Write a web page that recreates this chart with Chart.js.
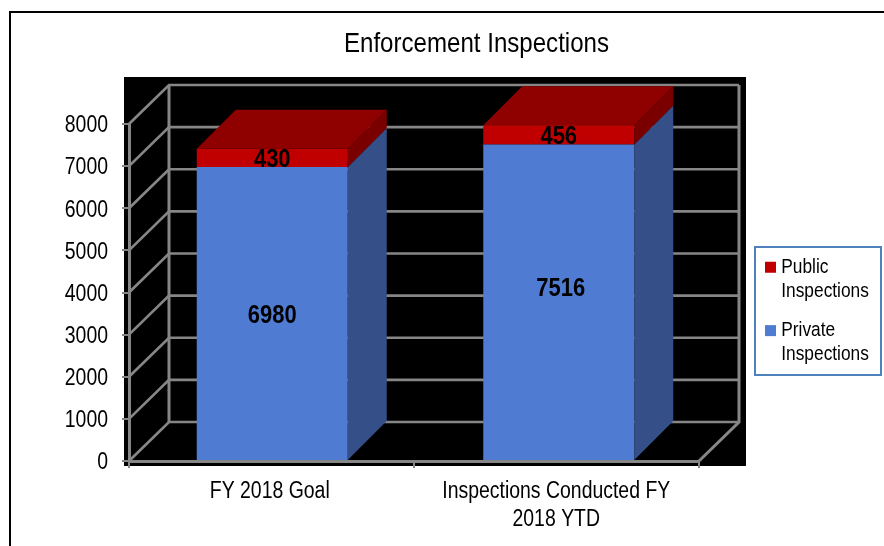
<!DOCTYPE html>
<html>
<head>
<meta charset="utf-8">
<style>html,body{margin:0;padding:0;background:#fff}canvas{display:block}</style>
<script src="https://cdn.jsdelivr.net/npm/chart.js@4/dist/chart.umd.min.js"></script>
</head>
<body>
<div style="width:884px;height:546px"><canvas id="c" width="884" height="546"></canvas></div>
<script>
const chartTitle = "Enforcement Inspections";
const categories = [["FY 2018 Goal"], ["Inspections Conducted FY", "2018 YTD"]];
const privateInspections = [6980, 7516];
const publicInspections = [430, 456];
const yMax = 8000;
const yStep = 1000;

const FONT = "'Liberation Sans',Arial,sans-serif";
const GRID = "#868686";
const faces = [
  {front: "#4f7bd3", side: "#355088", top: "#355088"},
  {front: "#c00000", side: "#7a0000", top: "#8f0000"}
];
const wall = {dx: 40, dy: -39, barDx: 39};
const labelNudge = [[{x: 0, y: 2}, {x: 2, y: -13}], [{x: 0, y: 2}, {x: 0, y: 2}]];
const narrow = 0.845;

const canvas = document.getElementById("c");
const ctx2d = canvas.getContext("2d");
const nativeFillText = ctx2d.fillText.bind(ctx2d);
// No narrow face is installed: the reference type is condensed horizontally.
ctx2d.fillText = function (text, x, y, maxWidth) {
  const w = ctx2d.measureText(text).width * narrow;
  nativeFillText(text, x, y, maxWidth === undefined ? w : Math.min(w, maxWidth));
};

const box3d = {
  id: "box3d",
  afterLayout(chart) {
    const t = chart.titleBlock;
    t.left = 176.5; t.right = 776.5;
    const l = chart.legend;
    l.left = 755; l.right = 881; l.top = 242; l.bottom = 374;
  },
  beforeDraw(chart) {
    const c = chart.ctx;
    c.save();
    c.fillStyle = "#fff"; c.fillRect(0, 0, chart.width, chart.height);
    c.fillStyle = "#000";
    c.fillRect(9, 11, 2, 535);
    c.fillRect(9, 11, 875, 2);
    c.fillRect(124, 77, 622, 389);
    c.strokeStyle = "#4f81bd"; c.lineWidth = 2;
    c.fillStyle = "#fff";
    c.fillRect(755, 247, 126, 128);
    c.strokeRect(755, 247, 126, 128);
    const x = chart.scales.x, y = chart.scales.y;
    const left = x.left, right = x.right - 3;
    c.strokeStyle = GRID;
    c.lineCap = "butt";
    c.lineWidth = 2.7;
    for (let v = 0; v <= yMax; v += yStep) {
      const p = y.getPixelForValue(v);
      c.beginPath();
      c.moveTo(left, p);
      c.lineTo(left + wall.dx, p + wall.dy);
      c.lineTo(right + wall.dx, p + wall.dy);
      c.stroke();
    }
    c.lineWidth = 3;
    c.beginPath();
    c.moveTo(left + wall.dx, y.top + wall.dy);
    c.lineTo(left + wall.dx, y.bottom + wall.dy);
    c.moveTo(right + wall.dx, y.top + wall.dy);
    c.lineTo(right + wall.dx, y.bottom + wall.dy);
    c.lineTo(right, y.bottom);
    c.stroke();
    c.restore();
  },
  afterDatasetsDraw(chart) {
    const c = chart.ctx;
    const x = chart.scales.x, y = chart.scales.y;
    c.save();
    chart.data.datasets.forEach((ds, i) => {
      chart.getDatasetMeta(i).data.forEach((b) => {
        const r = b.x + b.width / 2, l = b.x - b.width / 2;
        const dx = wall.barDx, dy = wall.dy;
        c.fillStyle = faces[i].side;
        c.beginPath();
        c.moveTo(r, b.base); c.lineTo(r + dx, b.base + dy);
        c.lineTo(r + dx, b.y + dy); c.lineTo(r, b.y);
        c.closePath(); c.fill();
        if (i === chart.data.datasets.length - 1) {
          c.fillStyle = faces[i].top;
          c.beginPath();
          c.moveTo(l, b.y); c.lineTo(l + dx, b.y + dy);
          c.lineTo(r + dx, b.y + dy); c.lineTo(r, b.y);
          c.closePath(); c.fill();
        }
      });
    });
    c.fillStyle = "#000";
    c.font = "bold 26px " + FONT;
    c.textAlign = "center";
    c.textBaseline = "middle";
    chart.data.datasets.forEach((ds, i) => {
      chart.getDatasetMeta(i).data.forEach((b, j) => {
        const n = labelNudge[i][j];
        c.fillText(String(ds.data[j]), b.x + n.x, (b.y + b.base) / 2 + n.y);
      });
    });
    // floor front edge and the category tick marks
    c.strokeStyle = GRID;
    c.lineWidth = 3;
    const floorRight = x.right - 3;
    c.beginPath();
    c.moveTo(x.left - 1, y.bottom + 0.5);
    c.lineTo(floorRight, y.bottom + 0.5);
    c.stroke();
    c.lineWidth = 2;
    c.beginPath();
    [x.left, (x.left + floorRight) / 2, floorRight].forEach(p => {
      c.moveTo(p, y.bottom);
      c.lineTo(p, y.bottom + 7);
    });
    c.stroke();
    c.restore();
  }
};

new Chart(canvas, {
  type: "bar",
  data: {
    labels: categories,
    datasets: [
      {label: "Private Inspections", data: privateInspections, backgroundColor: faces[0].front},
      {label: "Public Inspections", data: publicInspections, backgroundColor: faces[1].front}
    ]
  },
  options: {
    responsive: false,
    animation: false,
    events: [],
    layout: {padding: {left: 0, right: 182, top: 0, bottom: 0}},
    categoryPercentage: 1,
    barPercentage: 0.527,
    scales: {
      x: {
        stacked: true,
        afterFit(s) { s.height = 85; },
        grid: {display: false},
        border: {display: false},
        ticks: {
          color: "#000",
          font: {family: FONT, size: 23, lineHeight: 1.22},
          padding: 9,
          labelOffset: -2.5,
          maxRotation: 0,
          minRotation: 0,
          autoSkip: false
        }
      },
      y: {
        stacked: true,
        min: 0,
        max: yMax,
        afterFit(s) { s.width = 129; },
        grid: {drawOnChartArea: false, drawTicks: true, tickLength: 7, color: GRID, lineWidth: 2},
        border: {display: true, color: GRID, width: 3},
        ticks: {
          stepSize: yStep,
          color: "#000",
          font: {family: FONT, size: 23},
          padding: 14,
          labelOffset: 2,
          callback: v => String(v)
        }
      }
    },
    plugins: {
      tooltip: {enabled: false},
      title: {
        display: true,
        text: chartTitle,
        color: "#000",
        font: {family: FONT, size: 28.5, weight: "normal", lineHeight: 1.2},
        padding: {top: 27, bottom: 62.8}
      },
      legend: {
        display: true,
        position: "chartArea",
        align: "start",
        reverse: true,
        labels: {
          color: "#000",
          font: {family: FONT, size: 20.5, lineHeight: 1.18},
          usePointStyle: true,
          pointStyle: "rect",
          boxWidth: 1,
          boxHeight: 11,
          padding: 15,
          generateLabels(chart) {
            return chart.data.datasets.map((ds, i) => ({
              text: ds.label.split(" "),
              fillStyle: ds.backgroundColor,
              strokeStyle: ds.backgroundColor,
              lineWidth: 0,
              pointStyle: "rect",
              datasetIndex: i
            }));
          }
        }
      }
    }
  },
  plugins: [box3d]
});
</script>
</body>
</html>
